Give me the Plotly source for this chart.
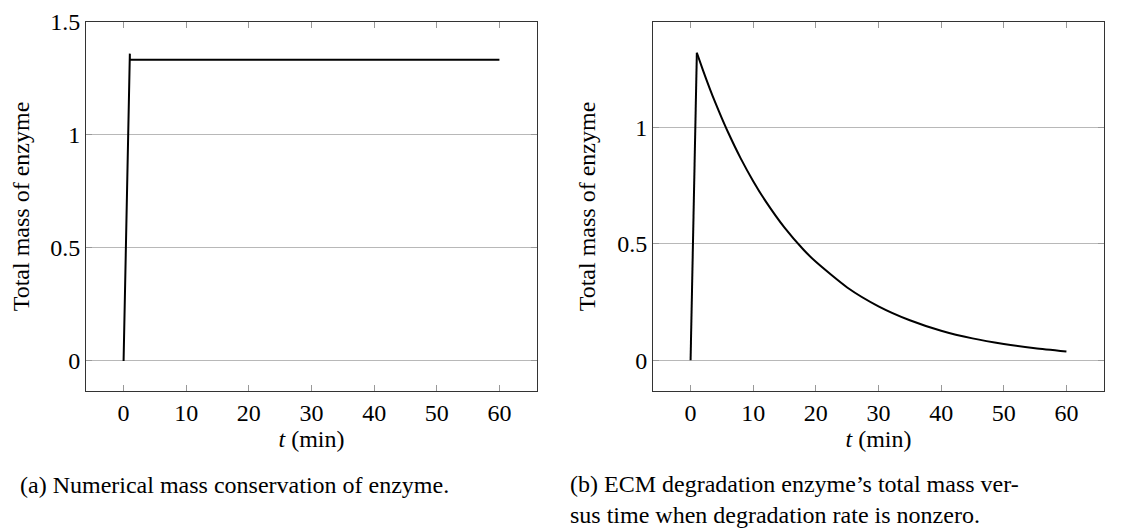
import plotly.graph_objects as go

# panel (a): numerical mass conservation
t_a = [0, 1, 1, 60]
mass_a = [0, 1.36, 1.333, 1.333]

# panel (b): total mass with nonzero degradation rate
t_b = [0, 1, 2, 3, 4, 5, 6, 8, 10, 12, 15, 18, 20, 25, 30, 35, 40, 45, 50, 55, 60]
mass_b = [0, 1.322, 1.245, 1.172, 1.104, 1.04, 0.979, 0.868, 0.77, 0.683, 0.57,
          0.476, 0.423, 0.313, 0.232, 0.172, 0.127, 0.094, 0.07, 0.052, 0.038]

x_ticks = [0, 10, 20, 30, 40, 50, 60]
y_ticks_a = [0, 0.5, 1, 1.5]
y_ticks_b = [0, 0.5, 1]

FONT = "Liberation Serif"
FS = 24
W, H = 1126, 529
OFF = 8  # default body margin of the html page


def px_x(p):
    return (p - OFF) / W


def px_y(p):
    return 1 - (p - OFF) / H


fig = go.Figure()
fig.add_trace(go.Scatter(x=t_a, y=mass_a, mode="lines", line=dict(color="black", width=2),
                         xaxis="x", yaxis="y", showlegend=False))
# rising part drawn straight, decay drawn as a smooth curve
fig.add_trace(go.Scatter(x=t_b[:2], y=mass_b[:2], mode="lines", line=dict(color="black", width=2),
                         xaxis="x2", yaxis="y2", showlegend=False))
fig.add_trace(go.Scatter(x=t_b[1:], y=mass_b[1:], mode="lines",
                         line=dict(color="black", width=2, shape="spline", smoothing=0.6),
                         xaxis="x2", yaxis="y2", showlegend=False))

ydom = [px_y(391), px_y(22)]


def xaxis(dom, anchor):
    return dict(domain=dom, anchor=anchor, range=[-6, 66], tickvals=x_ticks, automargin=False,
                showline=True, linecolor="#333", linewidth=1, mirror="ticks",
                ticks="inside", ticklen=6, tickcolor="#999", showgrid=False, zeroline=False,
                ticklabeloverflow="allow",
                title=dict(text="<i>t</i> (min)", font=dict(size=FS, family=FONT, color="black"), standoff=2),
                tickfont=dict(size=FS, family=FONT, color="black"))


def yaxis(rng, ticks, anchor):
    return dict(domain=ydom, anchor=anchor, range=rng, tickvals=ticks, automargin=False,
                ticktext=[("%g" % v) for v in ticks], ticklabeloverflow="allow",
                showline=True, linecolor="#333", linewidth=1, mirror="ticks",
                ticks="inside", ticklen=6, tickcolor="#999",
                showgrid=True, gridcolor="#b8b8b8", gridwidth=1, zeroline=False,
                title=dict(text="Total mass of enzyme", font=dict(size=FS, family=FONT, color="black"), standoff=14),
                tickfont=dict(size=FS, family=FONT, color="black"))


fig.update_layout(
    width=W, height=H, margin=dict(l=0, r=0, t=0, b=0),
    paper_bgcolor="white", plot_bgcolor="white",
    xaxis=xaxis([px_x(86), px_x(537)], "y"),
    yaxis=yaxis([-0.133, 1.5], y_ticks_a, "x"),
    xaxis2=xaxis([px_x(653), px_x(1104)], "y2"),
    yaxis2=yaxis([-0.1322, 1.4542], y_ticks_b, "x2"),
    annotations=[
        dict(text="(a) Numerical mass conservation of enzyme.", x=px_x(18), y=px_y(485),
             xref="paper", yref="paper", xanchor="left", yanchor="middle", showarrow=False,
             font=dict(size=FS, family=FONT, color="black")),
        dict(text="(b) ECM degradation enzyme\u2019s total mass ver-<br>sus time when degradation rate is nonzero.",
             x=px_x(568), y=px_y(499), xref="paper", yref="paper", xanchor="left", yanchor="middle",
             align="left", showarrow=False, font=dict(size=FS, family=FONT, color="black")),
    ],
)

fig.write_html("out.html")
